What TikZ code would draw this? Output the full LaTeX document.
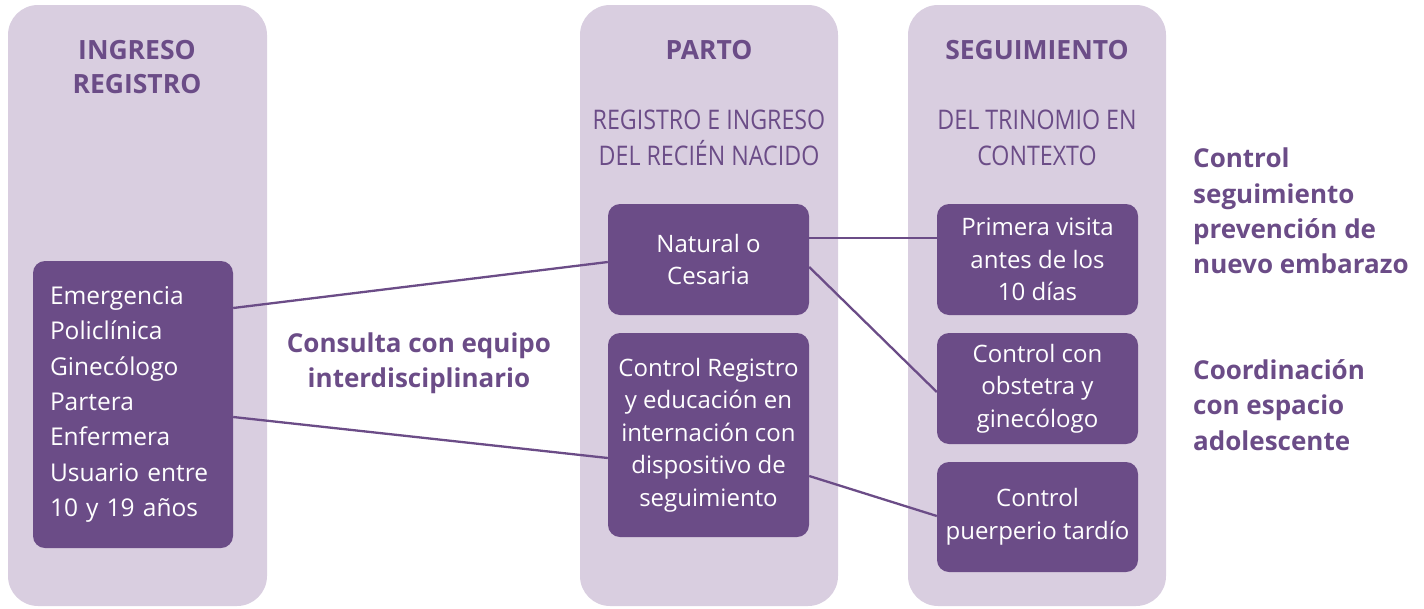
\documentclass[tikz,border=0pt]{standalone}
\usepackage{fontspec}
\setmainfont{Open Sans}
\newfontfamily\condfont[FakeStretch=0.86]{Open Sans}
\definecolor{colbg}{RGB}{217,206,224}
\definecolor{boxfill}{RGB}{107,76,135}
\definecolor{ptext}{RGB}{107,76,135}
\begin{document}
\begin{tikzpicture}[x=1pt,y=-1pt,
  column/.style={fill=colbg,draw=none,rounded corners=30pt,minimum height=601pt,inner sep=0pt},
  box/.style={fill=boxfill,draw=none,rounded corners=12pt,minimum width=200pt,text=white,align=center,inner sep=0pt,font=\fontsize{24}{32.5}\selectfont},
  title/.style={text=ptext,align=center,font=\bfseries\fontsize{26.5}{34}\selectfont,inner sep=0pt},
  subtitle/.style={text=ptext,align=center,font=\condfont\fontsize{27}{36}\selectfont,inner sep=0pt},
  side/.style={text=ptext,align=left,font=\bfseries\fontsize{26}{35.3}\selectfont,inner sep=0pt},
  link/.style={draw=boxfill,line width=2.3pt}]
\useasboundingbox (0,0) rectangle (1424,608);
% columns
\node[column,minimum width=259pt] (c1) at (137.5,305.5) {};
\node[column,minimum width=258pt] (c2) at (709,305.5) {};
\node[column,minimum width=258pt] (c3) at (1037,305.5) {};
% titles
\node[title] (t1) at (137,67) {INGRESO\\REGISTRO};
\node[title] (t2) at (709,50) {PARTO};
\node[title] (t3) at (1037,50) {SEGUIMIENTO};
\node[subtitle] (s2) at (709,138) {REGISTRO E INGRESO\\DEL RECIÉN NACIDO};
\node[subtitle] (s3) at (1037,138) {DEL TRINOMIO EN\\CONTEXTO};
% boxes
\node[box,minimum height=287pt,align=left,text width=166pt,font=\fontsize{24.5}{35.3}\selectfont] (lb) at (133,404.5) {Emergencia\\Policlínica\\Ginecólogo\\Partera\\Enfermera\\Usuario entre\\10 y 19 años};
\node[box,minimum width=201pt,minimum height=111pt] (nat) at (708.5,259.5) {Natural o\\Cesaria};
\node[box,minimum width=201pt,minimum height=204pt] (creg) at (708.5,435) {Control Registro\\y educación en\\internación con\\dispositivo de\\seguimiento};
\node[box,minimum width=201pt,minimum height=111pt] (prim) at (1037.5,259.5) {Primera visita\\antes de los\\10 días};
\node[box,minimum width=201pt,minimum height=111pt] (cobs) at (1037.5,388.5) {Control con\\obstetra y\\ginecólogo};
\node[box,minimum width=201pt,minimum height=110pt] (cpue) at (1037.5,517) {Control\\puerperio tardío};
% side texts
\node[side,anchor=west] (r1) at (1193,211) {Control\\seguimiento\\prevención de\\nuevo embarazo};
\node[side,anchor=west] (r2) at (1193,405) {Coordinación\\con espacio\\adolescente};
\node[side,align=center] (mid) at (419,363) {Consulta con equipo\\interdisciplinario};
% links
\draw[link] (lb.east |- 0,308) -- (nat.west |- 0,262);
\draw[link] (lb.east |- 0,417) -- (creg.west |- 0,458);
\draw[link] (nat.east |- 0,238) -- (prim.west |- 0,238);
\draw[link] (nat.east |- 0,267) -- (cobs.west |- 0,392);
\draw[link] (creg.east |- 0,476) -- (cpue.west |- 0,516);
\end{tikzpicture}
\end{document}
